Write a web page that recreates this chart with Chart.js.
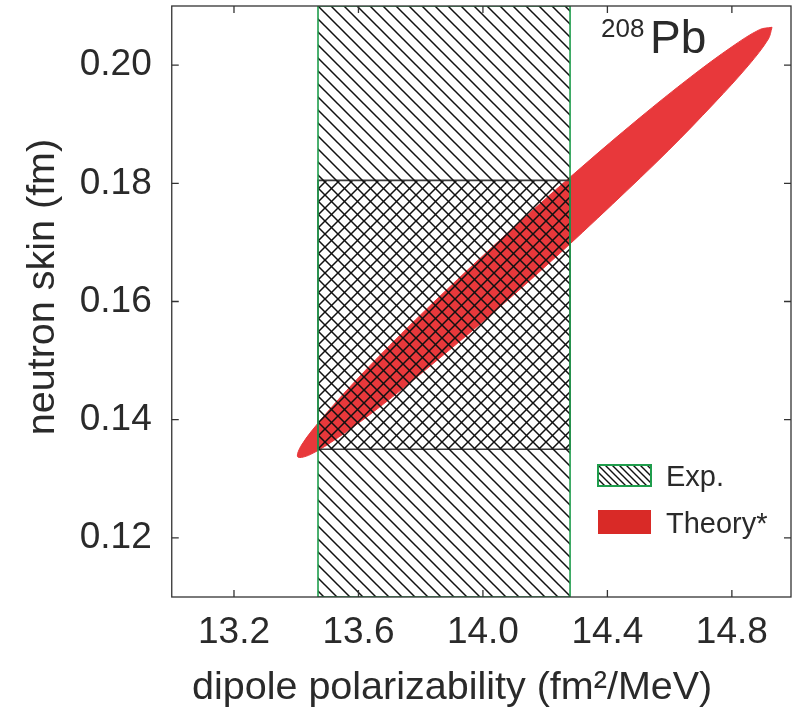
<!DOCTYPE html>
<html>
<head>
<meta charset="utf-8">
<script src="https://cdn.jsdelivr.net/npm/chart.js@4.4.1/dist/chart.umd.min.js"></script>
<style>
  html, body { margin: 0; padding: 0; background: #ffffff; }
  #wrap { width: 795px; height: 713px; }
</style>
</head>
<body>
<div id="wrap"><canvas id="c" width="795" height="713"></canvas></div>
<script>
// ---- data ----
const xTickValues = [13.2, 13.6, 14.0, 14.4, 14.8];
const xTickLabels = ['13.2', '13.6', '14.0', '14.4', '14.8'];
const yTickValues = [0.12, 0.14, 0.16, 0.18, 0.20];
const yTickLabels = ['0.12', '0.14', '0.16', '0.18', '0.20'];

// Experimental band (dipole polarizability range) and derived neutron-skin range
const expAlpha = [13.47, 14.28];
const expBandSkin = [0.11, 0.21];      // band spans the whole plotted skin range
const expSkin = [0.135, 0.1805];       // cross-hatched overlap region

// Theory ellipse boundary points
const theoryAlpha = [14.929, 14.917, 14.854, 14.744, 14.595, 14.417, 14.221, 14.022, 13.833, 13.667, 13.535, 13.445,
                     13.405, 13.417, 13.481, 13.591, 13.739, 13.918, 14.113, 14.312, 14.502, 14.668, 14.800, 14.889, 14.929];
const theorySkin  = [0.2064, 0.2044, 0.2000, 0.1936, 0.1855, 0.1765, 0.1669, 0.1576, 0.1492, 0.1421, 0.1370, 0.1341,
                     0.1337, 0.1357, 0.1401, 0.1466, 0.1546, 0.1637, 0.1732, 0.1825, 0.1910, 0.1980, 0.2031, 0.2060, 0.2064];

const seriesNames = ['Exp.', 'Theory*'];
const xTitle = 'dipole polarizability (fm\u00B2/MeV)';
const yTitle = 'neutron skin (fm)';
const nucleusMass = '208';
const nucleusSymbol = 'Pb';

// ---- styling ----
const FONT = "'Liberation Sans', Arial, Helvetica, sans-serif";
const TEXT = '#2a2a2a';
const GREEN = '#1f9d4c';
const RED_FILL = '#e8383b';
const RED_LEGEND = '#d92a27';

const canvas = document.getElementById('c');
const ctx0 = canvas.getContext('2d');

function hatch(dir, s, lw, color) {
  const c = document.createElement('canvas');
  c.width = s; c.height = s;
  const g = c.getContext('2d');
  g.strokeStyle = color; g.lineWidth = lw;
  g.beginPath();
  if (dir === 'back') { // "\"
    g.moveTo(-2, -2); g.lineTo(s + 2, s + 2);
    g.moveTo(-2, s - 2); g.lineTo(2, s + 2);
    g.moveTo(s - 2, -2); g.lineTo(s + 2, 2);
  } else {              // "/"
    g.moveTo(-2, s + 2); g.lineTo(s + 2, -2);
    g.moveTo(-2, 2); g.lineTo(2, -2);
    g.moveTo(s - 2, s + 2); g.lineTo(s + 2, s - 2);
  }
  g.stroke();
  return ctx0.createPattern(c, 'repeat');
}
const patBack = hatch('back', 13, 1.5, '#111');
const patFwd = hatch('fwd', 13, 1.5, '#111');
const patLegend = hatch('back', 7, 1.4, '#111');

function rect(xs, ys) {
  return [
    { x: xs[0], y: ys[0] }, { x: xs[1], y: ys[0] },
    { x: xs[1], y: ys[1] }, { x: xs[0], y: ys[1] }, { x: xs[0], y: ys[0] }
  ];
}

const framePlugin = {
  id: 'frameAndDecor',
  afterDraw(chart) {
    const { ctx, chartArea: a, scales } = chart;
    ctx.save();
    ctx.strokeStyle = '#333';
    ctx.lineWidth = 1.3;
    ctx.strokeRect(a.left, a.top, a.right - a.left, a.bottom - a.top);
    const tl = 7;
    ctx.beginPath();
    xTickValues.forEach(v => {
      const px = scales.x.getPixelForValue(v);
      ctx.moveTo(px, a.bottom); ctx.lineTo(px, a.bottom - tl);
      ctx.moveTo(px, a.top); ctx.lineTo(px, a.top + tl);
    });
    yTickValues.forEach(v => {
      const py = scales.y.getPixelForValue(v);
      ctx.moveTo(a.left, py); ctx.lineTo(a.left + tl, py);
      ctx.moveTo(a.right, py); ctx.lineTo(a.right - tl, py);
    });
    ctx.stroke();

    // axis titles
    ctx.fillStyle = TEXT;
    ctx.font = '39.5px ' + FONT;
    ctx.textAlign = 'left';
    ctx.textBaseline = 'alphabetic';
    ctx.fillText(xTitle, 192, 699);
    ctx.save();
    ctx.translate(43, 287);
    ctx.rotate(-Math.PI / 2);
    ctx.textAlign = 'center';
    ctx.textBaseline = 'middle';
    ctx.fillText(yTitle, 0, 0);
    ctx.restore();

    // nucleus label
    ctx.textBaseline = 'alphabetic';
    ctx.textAlign = 'left';
    ctx.font = '26px ' + FONT;
    ctx.fillText(nucleusMass, 601, 37);
    ctx.font = '46px ' + FONT;
    ctx.fillText(nucleusSymbol, 650, 53);

    // legend
    const bx = 598, bw = 53, bh = 21;
    const y1 = 465, y2 = 510;
    ctx.fillStyle = '#fff';
    ctx.fillRect(bx, y1, bw, bh);
    ctx.fillStyle = patLegend;
    ctx.fillRect(bx, y1, bw, bh);
    ctx.strokeStyle = GREEN;
    ctx.lineWidth = 2;
    ctx.strokeRect(bx, y1, bw, bh);
    ctx.fillStyle = RED_LEGEND;
    ctx.fillRect(bx, y2, bw, 24);
    ctx.fillStyle = TEXT;
    ctx.font = '29px ' + FONT;
    ctx.fillText(seriesNames[0], 666, 486);
    ctx.fillText(seriesNames[1], 666, 533);
    ctx.restore();
  }
};

new Chart(canvas, {
  type: 'scatter',
  data: {
    datasets: [
      {
        label: seriesNames[0],
        data: rect(expAlpha, expBandSkin),
        showLine: true,
        fill: 'shape',
        backgroundColor: patBack,
        borderColor: GREEN,
        borderWidth: 1.6,
        pointRadius: 0,
        tension: 0
      },
      {
        label: seriesNames[0] + ' overlap',
        data: rect(expAlpha, expSkin),
        showLine: true,
        fill: 'shape',
        backgroundColor: patFwd,
        borderColor: '#3a3a3a',
        borderWidth: 1.6,
        pointRadius: 0,
        tension: 0
      },
      {
        label: seriesNames[1],
        data: theoryAlpha.map((x, i) => ({ x, y: theorySkin[i] })),
        showLine: true,
        fill: 'shape',
        backgroundColor: RED_FILL,
        borderColor: RED_FILL,
        borderWidth: 1,
        pointRadius: 0,
        tension: 0.35
      }
    ]
  },
  options: {
    responsive: false,
    animation: false,
    events: [],
    layout: { padding: { top: 6, right: 4, left: 0, bottom: 0 } },
    plugins: { legend: { display: false }, tooltip: { enabled: false } },
    scales: {
      x: {
        type: 'linear',
        min: 13.0,
        max: 14.99,
        afterBuildTicks: s => { s.ticks = xTickValues.map(v => ({ value: v })); },
        afterFit: s => { s.height = 116; s.paddingLeft = 0; s.paddingRight = 0; },
        grid: { display: false, drawTicks: false },
        border: { display: false },
        ticks: {
          padding: 14,
          color: TEXT,
          font: { family: FONT, size: 37 },
          callback: (v) => xTickLabels[xTickValues.findIndex(t => Math.abs(t - v) < 1e-9)] ?? ''
        },
        title: { display: false, text: xTitle }
      },
      y: {
        type: 'linear',
        min: 0.11,
        max: 0.21,
        afterBuildTicks: s => { s.ticks = yTickValues.map(v => ({ value: v })); },
        afterFit: s => { s.width = 171.75; s.paddingTop = 0; s.paddingBottom = 0; },
        grid: { display: false, drawTicks: false },
        border: { display: false },
        ticks: {
          padding: 20,
          color: TEXT,
          font: { family: FONT, size: 37 },
          callback: (v) => yTickLabels[yTickValues.findIndex(t => Math.abs(t - v) < 1e-9)] ?? ''
        },
        title: { display: false, text: yTitle }
      }
    }
  },
  plugins: [framePlugin]
});
</script>
</body>
</html>
